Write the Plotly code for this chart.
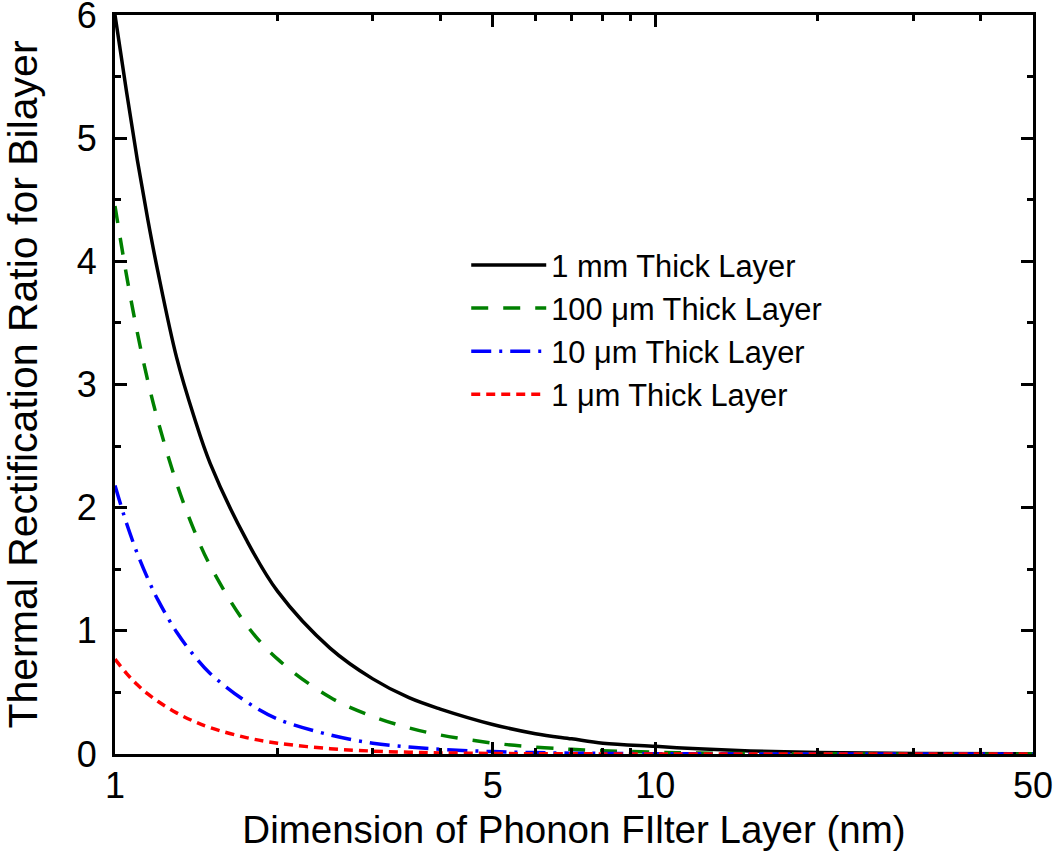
import plotly.graph_objects as go

# filter layer dimension (nm) and rectification ratio
x_nm = [1, 1.05, 1.1, 1.15, 1.2, 1.3, 1.4, 1.5, 1.75, 2, 2.5, 3, 3.5, 4, 5, 6, 7, 8, 10, 12, 15, 20, 30, 50]
ratio_1mm = [6.0, 5.38, 4.82, 4.34, 3.92, 3.22, 2.74, 2.36, 1.74, 1.32, 0.86, 0.61, 0.457, 0.365, 0.24,
             0.165, 0.123, 0.088, 0.062, 0.042, 0.025, 0.012, 0.004, 0.001]
ratio_100um = [4.45, 3.89, 3.42, 3.03, 2.71, 2.20, 1.82, 1.53, 1.05, 0.77, 0.46, 0.305, 0.212, 0.154, 0.089,
               0.056, 0.038, 0.027, 0.0148, 0.008, 0.004, 0.002, 0.0005, 0.0001]
ratio_10um = [2.18, 1.875, 1.627, 1.424, 1.253, 0.99, 0.80, 0.654, 0.425, 0.284, 0.155, 0.088, 0.056, 0.038, 0.0195,
              0.0113, 0.0071, 0.0048, 0.0025, 0.0015, 0.0008, 0.0003, 0.0001, 0.00002]
ratio_1um = [0.77, 0.655, 0.562, 0.488, 0.428, 0.334, 0.265, 0.214, 0.133, 0.088, 0.043, 0.0236, 0.0142, 0.0091,
             0.0043, 0.0023, 0.0014, 0.0009, 0.00045, 0.0002, 0.0001, 0.00003, 0.00001, 0.0]

series_names = ["1 mm Thick Layer", "100 μm Thick Layer", "10 μm Thick Layer", "1 μm Thick Layer"]
x_ticks = [1, 5, 10, 50]
x_minor_ticks = [2, 3, 4, 6, 7, 8, 9, 20, 30, 40]
y_ticks = [0, 1, 2, 3, 4, 5, 6]

FONT = "Liberation Sans, Arial, sans-serif"

styles = [
    dict(color="#000000", width=3.5, dash="solid"),
    dict(color="#008000", width=3.5, dash="17px,15px"),
    dict(color="#0000ff", width=3.5, dash="20px,8px,3px,8px"),
    dict(color="#ff0000", width=3.5, dash="9px,6px"),
]

fig = go.Figure()
for name, ys, st in zip(series_names, [ratio_1mm, ratio_100um, ratio_10um, ratio_1um], styles):
    fig.add_trace(go.Scatter(x=x_nm, y=ys, mode="lines", name=name,
                             line=dict(shape="spline", smoothing=1.0, **st)))

axis_common = dict(showline=True, linecolor="black", linewidth=3, mirror="allticks",
                   ticks="inside", tickcolor="black", tickwidth=2.5, ticklen=12,
                   showgrid=False, zeroline=False, ticklabeloverflow="allow",
                   tickfont=dict(family=FONT, size=36, color="black"))

fig.update_xaxes(type="log", range=[0, 1.69897], tickmode="array", tickvals=x_ticks,
                 ticktext=[str(v) for v in x_ticks],
                 minor=dict(tickmode="array", tickvals=x_minor_ticks, ticklen=6, tickwidth=2.5,
                            tickcolor="black", ticks="inside"),
                 title=dict(text="Dimension of Phonon FIlter Layer (nm)", font=dict(family=FONT, size=38.5, color="black"),
                            standoff=11),
                 ticklabelstandoff=-2, automargin=False,
                 **axis_common)
# "left" only, so the title standoff is honoured but the top "6" does not push the margin
fig.update_yaxes(range=[0, 6], tickmode="array", tickvals=y_ticks,
                 minor=dict(dtick=0.5, ticklen=6, tickwidth=2.5, tickcolor="black", ticks="inside"),
                 title=dict(text="Thermal Rectification Ratio for Bilayer", font=dict(family=FONT, size=41, color="black"),
                            standoff=28),
                 ticklabelstandoff=8, automargin="left",
                 **axis_common)

fig.update_layout(
    width=1057, height=863,
    margin=dict(l=115, r=24, t=15, b=109),
    paper_bgcolor="white", plot_bgcolor="white",
    font=dict(family=FONT, color="black"),
    legend=dict(x=0.3826, y=0.6975, xanchor="left", yanchor="top", bgcolor="rgba(0,0,0,0)",
                font=dict(family=FONT, size=30.8, color="black"), itemwidth=75, tracegroupgap=0),
)

# drop the default 8px body margin so the top "6" label is not clipped
fig.write_html("out.html", config={"displayModeBar": False},
               post_script="document.body.style.margin = '0px';")
